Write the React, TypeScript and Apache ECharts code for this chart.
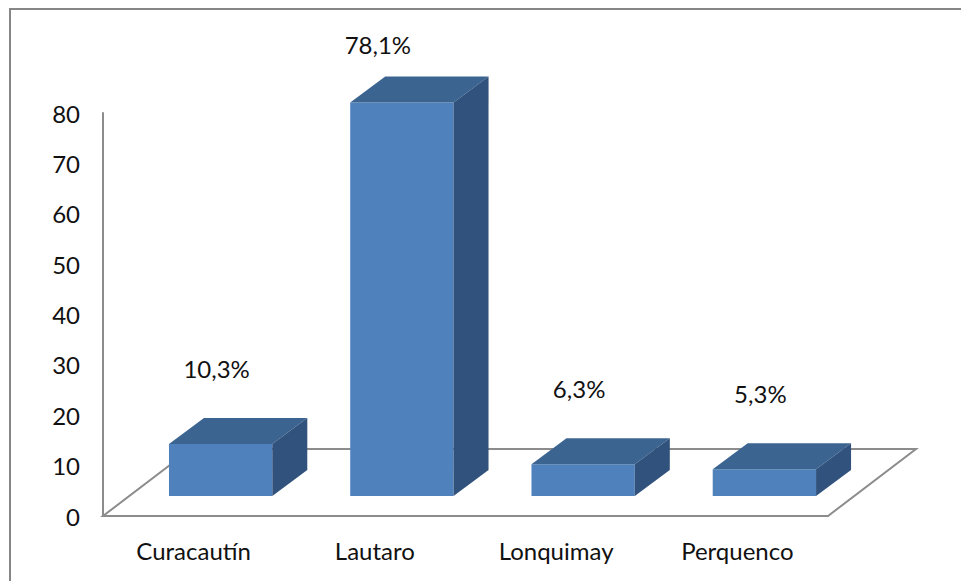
import React, { useEffect, useRef } from "react";
import * as echarts from "echarts";

const categories = ["Curacautín", "Lautaro", "Lonquimay", "Perquenco"];
const values = [10.3, 78.1, 6.3, 5.3];
const valueLabels = ["10,3%", "78,1%", "6,3%", "5,3%"];
const yMin = 0;
const yMax = 80;
const yInterval = 10;

const FONT = "Lato";
const FONT_SIZE = 24;
const FRONT = "#4F81BD";
const TOP = "#3C6491";
const SIDE = "#30527C";
const GRAY = "#8C8C8C";

export default function App() {
  const ref = useRef<HTMLDivElement>(null);
  useEffect(() => {
    document.body.style.margin = "0";
    const chart = echarts.init(ref.current!, null, { renderer: "svg" });
    const floorDx = 88;
    const floorDy = -67;
    const frontDx = 27;
    const frontDy = -20;
    const depthDx = 35;
    const depthDy = -26;
    chart.setOption({
      animation: false,
      backgroundColor: "#ffffff",
      graphic: [
        {
          type: "rect",
          shape: { x: 10, y: 9, width: 1200, height: 1200 },
          style: { fill: "none", stroke: "#868686", lineWidth: 2 },
          silent: true,
        },
      ],
      grid: { left: 103, right: 133, top: 113, bottom: 65 },
      xAxis: {
        type: "category",
        data: categories,
        axisLine: { show: true, lineStyle: { color: GRAY, width: 2 } },
        axisTick: { show: false },
        axisLabel: {
          fontFamily: FONT,
          fontSize: FONT_SIZE,
          color: "#111",
          margin: 22,
        },
        splitLine: { show: false },
      },
      yAxis: {
        type: "value",
        min: yMin,
        max: yMax,
        interval: yInterval,
        axisLine: { show: true, lineStyle: { color: GRAY, width: 2 } },
        axisTick: { show: false },
        splitLine: { show: false },
        axisLabel: {
          fontFamily: FONT,
          fontSize: FONT_SIZE,
          color: "#111",
          margin: 23,
        },
      },
      series: [
        {
          type: "custom",
          z: 1,
          silent: true,
          data: [[0, 0]],
          renderItem: (params: any, api: any) => {
            const cs = params.coordSys;
            const x0 = cs.x;
            const x1 = cs.x + cs.width;
            const y0 = cs.y + cs.height;
            return {
              type: "polygon",
              shape: {
                points: [
                  [x0, y0],
                  [x1, y0],
                  [x1 + floorDx, y0 + floorDy],
                  [x0 + floorDx, y0 + floorDy],
                ],
              },
              style: { fill: "none", stroke: GRAY, lineWidth: 2 },
            };
          },
        },
        {
          type: "custom",
          z: 5,
          data: values.map((v, i) => [i, v]),
          encode: { x: 0, y: 1 },
          renderItem: (params: any, api: any) => {
            const idx = api.value(0);
            const base = api.coord([idx, 0]);
            const top = api.coord([idx, api.value(1)]);
            const bw = api.size([1, 0])[0] * 0.57;
            const cx = base[0] + frontDx;
            const xl = cx - bw / 2;
            const xr = cx + bw / 2;
            const yb = base[1] + frontDy;
            const yt = top[1] + frontDy;
            const clipped = yt + depthDy - 50 < params.coordSys.y - 69;
            const labelY = clipped ? params.coordSys.y - 69 : yt + depthDy - 50;
            const labelX = clipped ? cx - 24 : cx - 4;
            return {
              type: "group",
              children: [
                {
                  type: "rect",
                  shape: { x: xl, y: yt, width: bw, height: yb - yt },
                  style: { fill: FRONT },
                },
                {
                  type: "polygon",
                  shape: {
                    points: [
                      [xl, yt],
                      [xr, yt],
                      [xr + depthDx, yt + depthDy],
                      [xl + depthDx, yt + depthDy],
                    ],
                  },
                  style: { fill: TOP },
                },
                {
                  type: "polygon",
                  shape: {
                    points: [
                      [xr, yt],
                      [xr + depthDx, yt + depthDy],
                      [xr + depthDx, yb + depthDy],
                      [xr, yb],
                    ],
                  },
                  style: { fill: SIDE },
                },
                {
                  type: "text",
                  x: labelX,
                  y: labelY,
                  style: {
                    text: valueLabels[params.dataIndex],
                    fontFamily: FONT,
                    fontSize: FONT_SIZE,
                    fill: "#111",
                    align: "center",
                    verticalAlign: "middle",
                  },
                },
              ],
            };
          },
        },
      ],
    });
    return () => chart.dispose();
  }, []);
  return <div ref={ref} style={{ width: 961, height: 581 }} />;
}
